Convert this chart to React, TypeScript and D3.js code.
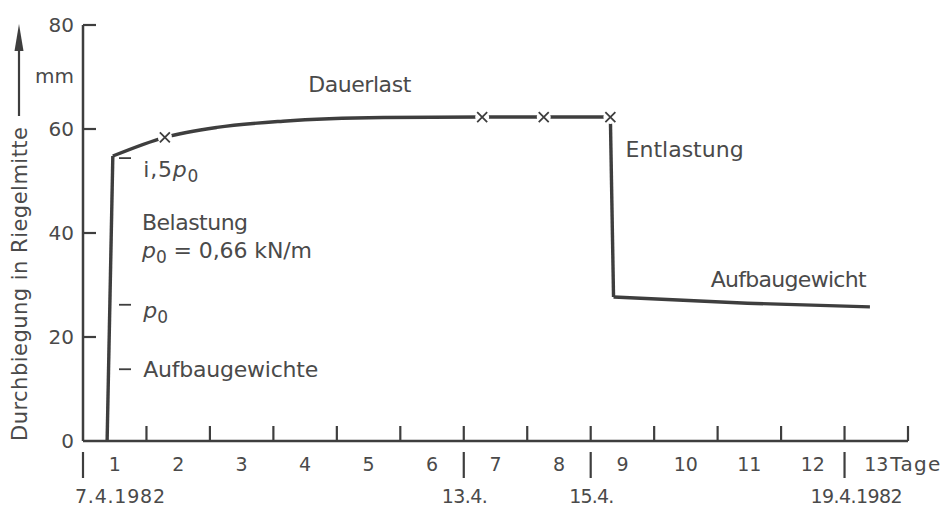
import React, { useEffect, useRef } from 'react';
import * as d3 from 'd3';

// days since 7.4.1982 vs. midspan deflection in mm
const loadRise: [number, number][] = [[0.38, 0], [0.47, 54.8]];
const creep: [number, number][] = [[0.47, 54.8], [1.29, 58.4], [2.11, 60.3], [3.15, 61.5], [4.73, 62.2], [6.29, 62.3]];
const plateau: [number, number][] = [[6.29, 62.3], [7.26, 62.3], [8.31, 62.3]];
const unload: [number, number][] = [[8.31, 62.3], [8.36, 27.7]];
const residual: [number, number][] = [[8.36, 27.7], [10.47, 26.5], [12.4, 25.8]];
const readings = [1.29, 6.29, 7.26, 8.31];

const yTicks = [0, 20, 40, 60, 80];
const dayTicks = [1, 2, 3, 4, 5, 6, 7, 8, 9, 10, 11, 12, 13];
const dayLabels = ['1', '2', '3', '4', '5', '6', '7', '8', '9', '10', '11', '12', '13'];
const dates = [
  { t: 0, label: '7.4.1982' },
  { t: 6, label: '13.4.' },
  { t: 8, label: '15.4.' },
  { t: 12, label: '19.4.1982' },
];

const W = 946;
const H = 508;
const INK = '#3e3e3e';
const TEXT = '#4a4a4a';
const FONT = '"DejaVu Sans", sans-serif';

const App: React.FC = () => {
  const svgRef = useRef<SVGSVGElement>(null);

  useEffect(() => {
    if (!svgRef.current) return;
    const svg = d3.select(svgRef.current);
    svg.selectAll('*').remove();

    const x = d3.scaleLinear().domain([0, 13]).range([83, 908]);
    const y = d3.scaleLinear().domain([0, 80]).range([441, 25]);
    const y0 = y(0);

    const g = svg.append('g').style('font-family', FONT).style('fill', TEXT);

    // y axis
    g.append('line')
      .attr('x1', x(0)).attr('x2', x(0))
      .attr('y1', y0).attr('y2', y(80))
      .style('stroke', INK).style('stroke-width', 2.5);

    yTicks.forEach(v => {
      if (v > 0) {
        g.append('line')
          .attr('x1', x(0)).attr('x2', x(0) + 13)
          .attr('y1', y(v)).attr('y2', y(v))
          .style('stroke', INK).style('stroke-width', 2.2);
      }
      g.append('text')
        .attr('x', x(0) - 9)
        .attr('y', y(v) + 7)
        .style('text-anchor', 'end')
        .style('font-size', '20px')
        .text(String(v));
    });

    g.append('text')
      .attr('x', x(0) - 9)
      .attr('y', y(70) + 6)
      .style('text-anchor', 'end')
      .style('font-size', '20px')
      .text('mm');

    // y title with arrow
    g.append('text')
      .attr('transform', `translate(27,${y0}) rotate(-90)`)
      .style('font-size', '21px')
      .attr('textLength', 314)
      .attr('lengthAdjust', 'spacing')
      .text('Durchbiegung in Riegelmitte');

    g.append('line')
      .attr('x1', 19).attr('x2', 19)
      .attr('y1', 116).attr('y2', 45)
      .style('stroke', INK).style('stroke-width', 2.2);
    g.append('path')
      .attr('d', 'M19,24 L14.5,51 L23.5,51 Z')
      .style('fill', INK);

    // x axis
    g.append('line')
      .attr('x1', x(0)).attr('x2', x(13))
      .attr('y1', y0).attr('y2', y0)
      .style('stroke', INK).style('stroke-width', 2.5);

    dayTicks.forEach(t => {
      g.append('line')
        .attr('x1', x(t)).attr('x2', x(t))
        .attr('y1', y0).attr('y2', y0 - 15)
        .style('stroke', INK).style('stroke-width', 2.2);
    });

    dayLabels.forEach((lab, i) => {
      const last = i === dayLabels.length - 1;
      g.append('text')
        .attr('x', x(i + 0.5))
        .attr('y', y0 + 30)
        .style('text-anchor', 'middle')
        .style('font-size', '19px')
        .text(lab);
      if (last) {
        g.append('text')
          .attr('x', x(i + 0.5) + 14)
          .attr('y', y0 + 30)
          .style('font-size', '20px')
          .attr('textLength', 50)
          .attr('lengthAdjust', 'spacing')
          .text('Tage');
      }
    });

    const dateLen = [90, 46, 45, 92];
    dates.forEach((d, i) => {
      g.append('line')
        .attr('x1', x(d.t)).attr('x2', x(d.t))
        .attr('y1', y0 + 11).attr('y2', y0 + 37)
        .style('stroke', INK).style('stroke-width', 2.2);
      const first = i === 0;
      const last = i === dates.length - 1;
      g.append('text')
        .attr('x', first ? x(d.t) - 8 : last ? x(d.t) + 12 : x(d.t) + 1)
        .attr('y', y0 + 62)
        .style('text-anchor', first ? 'start' : 'middle')
        .style('font-size', '19px')
        .attr('textLength', dateLen[i])
        .attr('lengthAdjust', 'spacing')
        .text(d.label);
    });

    // deflection curve
    const line = d3.line<[number, number]>()
      .x(d => x(d[0]))
      .y(d => y(d[1]))
      .curve(d3.curveMonotoneX);

    [loadRise, creep, plateau, unload, residual].forEach(seg => {
      g.append('path')
        .attr('d', line(seg) as string)
        .style('fill', 'none')
        .style('stroke', INK)
        .style('stroke-width', 3.4)
        .style('stroke-linejoin', 'round');
    });

    // measurement crosses
    const valueAt = (t: number) => {
      const pts = [...creep, ...plateau];
      const p = pts.find(q => q[0] === t);
      return p ? p[1] : 0;
    };
    readings.forEach(t => {
      const cx = x(t);
      const cy = y(valueAt(t));
      g.append('circle')
        .attr('cx', cx).attr('cy', cy).attr('r', 7)
        .style('fill', 'white');
      g.append('path')
        .attr('d', `M${cx - 5},${cy - 5} L${cx + 5},${cy + 5} M${cx - 5},${cy + 5} L${cx + 5},${cy - 5}`)
        .style('stroke', INK)
        .style('stroke-width', 1.8)
        .style('fill', 'none');
    });

    // annotations
    const label = (tx: number, vy: number, txt: string, len: number) => {
      return g.append('text')
        .attr('x', x(tx))
        .attr('y', y(vy))
        .style('font-size', '22px')
        .attr('textLength', len)
        .attr('lengthAdjust', 'spacing')
        .text(txt);
    };

    label(3.55, 67.1, 'Dauerlast', 103);
    label(8.55, 54.6, 'Entlastung', 118);
    label(9.89, 29.6, 'Aufbaugewicht', 156);
    label(0.93, 40.6, 'Belastung', 106);

    const pLabel = (tx: number, vy: number, before: string, after: string, len?: number) => {
      const t = g.append('text')
        .attr('x', x(tx))
        .attr('y', y(vy))
        .style('font-size', '22px');
      if (before) t.append('tspan').text(before);
      t.append('tspan').style('font-style', 'italic').text('p');
      t.append('tspan').attr('dy', 5).style('font-size', '17px').text('0');
      if (after) t.append('tspan').attr('dy', -5).text(after);
      if (len) t.attr('textLength', len).attr('lengthAdjust', 'spacing');
      return t;
    };

    pLabel(0.93, 35.2, '', '  =  0,66 kN/m', 170);
    pLabel(0.95, 50.8, 'i,5', '', 55);
    pLabel(0.95, 23.6, '', '');

    // little leader dashes
    const dashes = [54.4, 26.2, 13.8];
    dashes.forEach(v => {
      g.append('line')
        .attr('x1', 119).attr('x2', 131)
        .attr('y1', y(v)).attr('y2', y(v))
        .style('stroke', INK).style('stroke-width', 1.8);
    });
    label(0.95, 12.3, 'Aufbaugewichte', 175);
  }, []);

  return (
    <svg
      ref={svgRef}
      width={W}
      height={H}
      style={{ position: 'absolute', left: 0, top: 0, background: 'white' }}
    />
  );
};

export default App;
